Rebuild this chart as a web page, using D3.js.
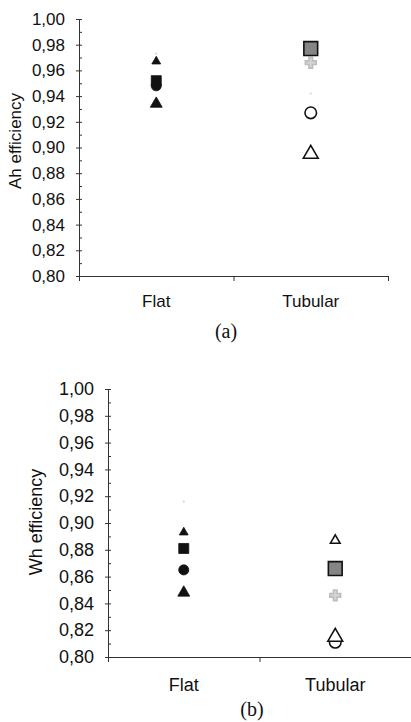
<!DOCTYPE html>
<html>
<head>
<meta charset="utf-8">
<script src="https://cdn.jsdelivr.net/npm/d3@7"></script>
<style>
  body { margin: 0; background: #fff; }
  text { font-family: "Liberation Sans", Arial, sans-serif; fill: #111; }
</style>
</head>
<body>
<script>
// data
const categories = ["Flat", "Tubular"];
const yTicks = [0.80, 0.82, 0.84, 0.86, 0.88, 0.90, 0.92, 0.94, 0.96, 0.98, 1.00];

// Ah efficiency (panel a), one value per category, null = not visible
const ahBigTriangle   = [0.934, 0.895];
const ahSmallTriangle = [0.967, 0.977];
const ahCircle        = [0.948, 0.927];
const ahSquare        = [0.952, 0.977];
const ahStar          = [null, 0.966];
const ahDot           = [0.973, 0.942];

// Wh efficiency (panel b)
const whBigTriangle   = [0.848, 0.815];
const whSmallTriangle = [0.893, 0.887];
const whCircle        = [0.865, 0.811];
const whSquare        = [0.881, 0.866];
const whStar          = [null, 0.846];
const whDot           = [0.916, null];

const fmt = d3.formatLocale({decimal: ",", thousands: ".", grouping: [3], currency: ["", ""]}).format(".2f");

const svg = d3.select("body").append("svg")
    .attr("width", 411)
    .attr("height", 722);

// marker styles per series, first = Flat, second = Tubular
const seriesStyle = {
  bigTriangle:   {type: d3.symbolTriangle, size: [62, 95]},
  smallTriangle: {type: d3.symbolTriangle, size: [34, 40]},
  circle:        {type: d3.symbolCircle,   size: [80, 105]},
  square:        {type: d3.symbolSquare,   size: [100, 190]},
  star:          {type: d3.symbolCross,    size: [65, 65]},
  dot:           {type: d3.symbolCircle,   size: [4, 4]}
};

function markerFill(name, ci) {
  if (name == "dot") return "#d8d8d8";
  if (name == "star") return "#d4d4d4";
  if (ci == 0) return "#111";
  if (name == "square") return "#858585";
  return "#fff";
}
function markerStroke(name, ci) {
  if (name == "dot") return "none";
  if (name == "star") return "#bdbdbd";
  return "#111";
}

function drawPanel(p) {
  const g = svg.append("g");

  const y = d3.scaleLinear().domain([0.8, 1.0]).range([p.yBottom, p.yTop]);
  const x = d3.scaleBand().domain(categories).range([p.xLeft, p.xRight]).padding(0);
  const xl = d3.scaleLinear().domain([0, 2]).range([p.xLeft, p.xRight]);

  // y axis: labels + major ticks on the left
  const ax = g.append("g")
      .attr("transform", `translate(${p.xLeft},0)`)
      .call(d3.axisLeft(y).tickValues(yTicks).tickSize(3).tickPadding(11).tickFormat(fmt));
  ax.selectAll("text").style("font-size", p.font + "px").style("font-family", "Liberation Sans, Arial");
  // ticks on the right side (major + minor)
  const minor = d3.range(80, 101).map(d => d / 100);
  g.append("g")
      .attr("transform", `translate(${p.xLeft},0)`)
      .call(d3.axisRight(y).tickValues(minor).tickSize(3).tickFormat(""));

  // x axis
  g.append("g")
      .attr("transform", `translate(0,${p.yBottom})`)
      .call(d3.axisBottom(xl).tickValues([0, 1, 2]).tickSize(5).tickSizeOuter(0).tickFormat(""));

  g.selectAll(".domain").attr("stroke", "#333");
  g.selectAll(".tick line").attr("stroke", "#333");

  // category labels
  g.selectAll(".cat")
    .data(categories)
    .enter()
    .append("text")
      .attr("x", d => x(d) + x.bandwidth() / 2)
      .attr("y", p.catY)
      .attr("text-anchor", "middle")
      .style("font-size", p.font + "px")
      .text(d => d);

  // y title
  g.append("text")
      .attr("transform", `translate(${p.titleX},${p.titleY}) rotate(-90)`)
      .attr("text-anchor", "middle")
      .style("font-size", p.font + "px")
      .text(p.title);

  // panel letter
  g.append("text")
      .attr("x", p.letterX)
      .attr("y", p.letterY)
      .attr("text-anchor", "middle")
      .style("font-family", "Liberation Serif, Times New Roman, serif")
      .style("font-size", "20px")
      .text(p.letter);

  // points
  const pts = [];
  Object.keys(p.series).forEach(name => {
    p.series[name].forEach((v, ci) => {
      if (v != null) pts.push({name: name, ci: ci, v: v});
    });
  });
  // draw order: stars/dots first, small triangle on top
  const order = ["dot", "star", "smallTriangle", "square", "circle", "bigTriangle"];
  pts.sort((a, b) => order.indexOf(a.name) - order.indexOf(b.name));

  g.selectAll(".pt")
    .data(pts)
    .enter()
    .append("path")
      .attr("transform", d => `translate(${x(categories[d.ci]) + x.bandwidth() / 2},${y(d.v)})`)
      .attr("d", d => d3.symbol().type(seriesStyle[d.name].type).size(seriesStyle[d.name].size[d.ci])())
      .attr("fill", d => markerFill(d.name, d.ci))
      .attr("stroke", d => markerStroke(d.name, d.ci))
      .attr("stroke-width", d => d.ci == 1 ? 1.6 : 0.8);
}

drawPanel({
  xLeft: 79, xRight: 388, yTop: 19, yBottom: 276,
  font: 17, catY: 307, title: "Ah efficiency", titleX: 21, titleY: 141,
  letter: "(a)", letterX: 226, letterY: 338,
  series: {
    bigTriangle: ahBigTriangle, smallTriangle: ahSmallTriangle, circle: ahCircle,
    square: ahSquare, star: ahStar, dot: ahDot
  }
});

drawPanel({
  xLeft: 108, xRight: 411, yTop: 389, yBottom: 657,
  font: 18, catY: 691, title: "Wh efficiency", titleX: 42, titleY: 522,
  letter: "(b)", letterX: 252, letterY: 716,
  series: {
    bigTriangle: whBigTriangle, smallTriangle: whSmallTriangle, circle: whCircle,
    square: whSquare, star: whStar, dot: whDot
  }
});
</script>
</body>
</html>
